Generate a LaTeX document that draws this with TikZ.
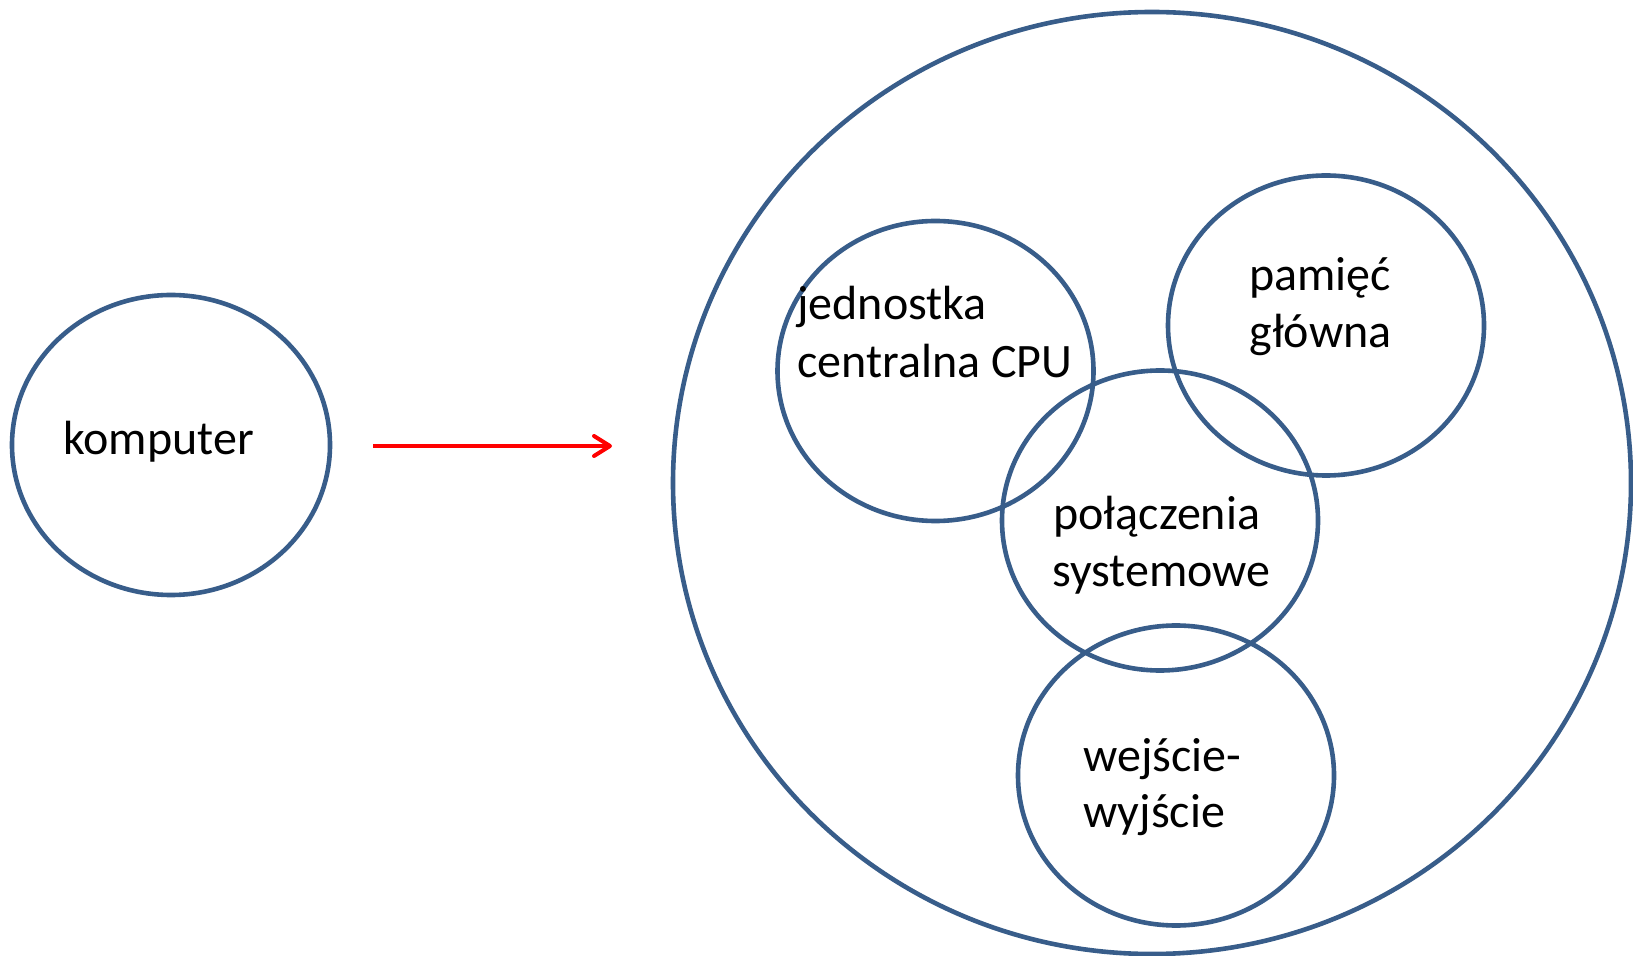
\documentclass[tikz,border=0pt]{standalone}
\usepackage{fontspec}
\setmainfont{Carlito}
\usetikzlibrary{arrows.meta}
\definecolor{ringblue}{HTML}{385D8A}
\tikzset{
  ring/.style={draw=ringblue, line width=2.3pt},
  lbl/.style={anchor=base west, inner sep=0pt, font=\fontsize{24}{29}\selectfont},
  flow/.style={draw=red, line width=2pt, -{Straight Barb[length=8pt,width=10pt,line cap=round,round]}}
}
\begin{document}
\begin{tikzpicture}[x=0.5pt, y=-0.5pt]
\useasboundingbox (0,0) rectangle (1633,956);
% component rings (centre and radii in px)
\draw[ring] (171,445) ellipse [x radius=159, y radius=150];
\draw[ring] (1152,483) ellipse [x radius=479, y radius=471];
\draw[ring] (935.5,371) ellipse [x radius=158, y radius=150];
\draw[ring] (1326,325.5) ellipse [x radius=158, y radius=150];
\draw[ring] (1160,520.5) ellipse [x radius=158, y radius=150];
\draw[ring] (1176,775.5) ellipse [x radius=158, y radius=150];
% labels
\node[lbl] (tkomp) at (63,455) {komputer};
\node[lbl] (tcpu1) at (797,320) {jednostka};
\node[lbl] (tcpu2) at (797,378) {centralna CPU};
\node[lbl] (tmem1) at (1249,291) {pamięć};
\node[lbl] (tmem2) at (1249,348) {główna};
\node[lbl] (tbus1) at (1053,530) {połączenia};
\node[lbl] (tbus2) at (1052,587) {systemowe};
\node[lbl] (tio1) at (1083,771) {wejście-};
\node[lbl] (tio2) at (1083,827) {wyjście};
% arrow from the whole computer to its parts
\coordinate (a1) at (373,446);
\coordinate (a2) at (612,446);
\draw[flow] (a1) -- (a2);
\end{tikzpicture}
\end{document}
